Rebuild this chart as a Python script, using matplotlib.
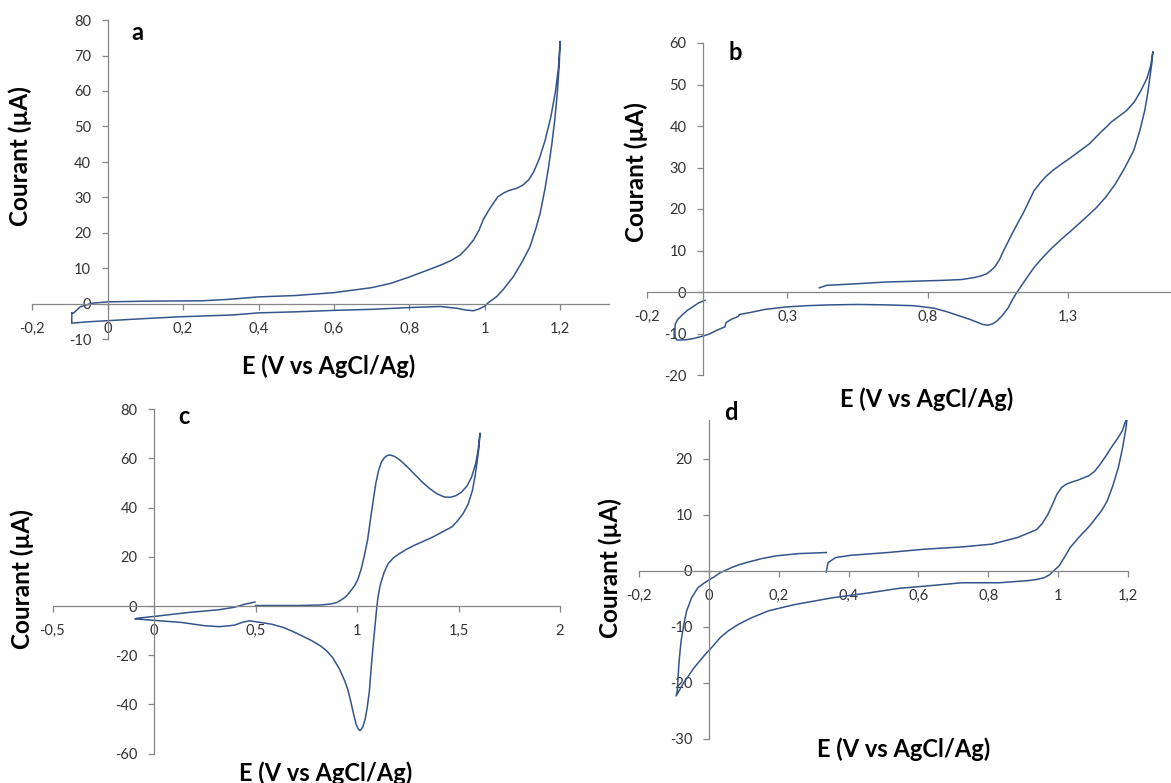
import matplotlib
matplotlib.use("Agg")
import matplotlib.pyplot as plt

# ---------------- data ----------------
# Panel a
E_a = [-0.095, -0.091, -0.073, -0.042, 0.0, 0.1, 0.25, 0.32, 0.4, 0.5, 0.6, 0.7, 0.75, 0.8,
       0.85, 0.882, 0.91, 0.935, 0.955, 0.970, 0.985, 0.996, 1.01, 1.023, 1.035, 1.049,
       1.065, 1.085, 1.1, 1.116, 1.13, 1.145, 1.16, 1.175, 1.188, 1.196, 1.2,
       1.198, 1.193, 1.186, 1.178, 1.17, 1.16, 1.147, 1.135, 1.12, 1.1, 1.076, 1.05, 1.032,
       1.01, 1.0, 0.985, 0.97, 0.95, 0.926, 0.882, 0.8, 0.7, 0.6, 0.5, 0.4, 0.33, 0.19,
       0.1, 0.0, -0.05, -0.0955, -0.095]
I_a = [-2.6, -2.6, -0.8, 0.2, 0.6, 0.8, 0.9, 1.3, 2.0, 2.4, 3.2, 4.6, 5.8, 7.6,
       9.6, 10.9, 12.2, 13.8, 16.0, 18.0, 20.8, 23.7, 26.3, 28.4, 30.2, 31.2,
       32.0, 32.6, 33.4, 34.9, 37.2, 41.0, 46.0, 52.5, 60.0, 67.0, 74.0,
       68.0, 60.0, 52.0, 45.0, 39.0, 32.5, 25.5, 21.0, 16.1, 12.0, 7.7, 4.2, 2.1,
       0.4, -0.6, -1.4, -1.9, -1.7, -1.2, -0.7, -1.0, -1.5, -1.8, -2.2, -2.5, -3.1, -3.6,
       -4.1, -4.7, -5.0, -5.4, -2.6]

# Panel b
E_b = [0.414, 0.44, 0.55, 0.65, 0.75, 0.85, 0.92, 0.967, 0.99, 1.01, 1.025, 1.04, 1.055,
       1.07, 1.085, 1.099, 1.12, 1.138, 1.158, 1.178, 1.2, 1.22, 1.243, 1.275, 1.309, 1.375,
       1.42, 1.441, 1.45, 1.507, 1.535, 1.559, 1.58, 1.593, 1.601,
       1.597, 1.592, 1.583, 1.572, 1.555, 1.533, 1.5, 1.467, 1.435, 1.401, 1.355, 1.309,
       1.275, 1.243, 1.21, 1.178, 1.148, 1.118, 1.1, 1.086, 1.066, 1.046, 1.03, 1.013,
       0.995, 0.98, 0.95, 0.914, 0.87, 0.822, 0.75, 0.651, 0.55, 0.454, 0.37, 0.296, 0.22,
       0.164, 0.13, 0.125, 0.1, 0.082, 0.078, 0.05, 0.02, -0.005, -0.033, -0.06, -0.092,
       -0.099, -0.1, -0.099, -0.09, -0.072, -0.055, -0.033, -0.015, 0.007]
I_b = [1.0, 1.6, 2.0, 2.4, 2.6, 2.8, 3.0, 3.5, 3.9, 4.4, 5.2, 6.2, 7.8,
       10.0, 12.0, 13.9, 16.6, 18.8, 21.6, 24.4, 26.3, 27.8, 29.2, 30.8, 32.4, 35.7,
       38.8, 40.1, 40.8, 43.7, 45.8, 48.6, 51.5, 54.5, 57.9,
       55.0, 52.6, 48.0, 43.7, 39.0, 34.1, 29.8, 26.0, 23.0, 20.4, 17.5, 14.7,
       12.7, 10.7, 8.4, 5.9, 3.0, 0.0, -2.0, -3.8, -5.6, -7.0, -7.7, -8.0,
       -7.8, -7.4, -6.6, -5.8, -4.8, -3.9, -3.3, -3.1, -3.0, -3.1, -3.3, -3.6, -4.2,
       -5.0, -5.4, -5.9, -6.6, -7.4, -8.4, -9.2, -10.2, -10.7, -11.2, -11.5, -11.6,
       -11.0, -9.5, -7.8, -6.6, -5.4, -4.4, -3.4, -2.6, -2.0]

# Panel c
E_c = [0.50, 0.6, 0.7, 0.82, 0.87, 0.9, 0.925, 0.945, 0.96, 0.975, 0.99, 1.005, 1.02,
       1.035, 1.045, 1.052, 1.066, 1.08, 1.093, 1.107, 1.12, 1.135, 1.15, 1.163, 1.185,
       1.209, 1.245, 1.283, 1.32, 1.357, 1.395, 1.43, 1.46, 1.486, 1.515, 1.542, 1.565,
       1.585, 1.597, 1.606,
       1.6, 1.593, 1.582, 1.569, 1.548, 1.523, 1.495, 1.468, 1.42, 1.375, 1.33, 1.283,
       1.245, 1.209, 1.18, 1.153, 1.133, 1.116, 1.105, 1.098, 1.09, 1.08, 1.07, 1.061,
       1.05, 1.04, 1.028, 1.015, 1.005, 0.996, 0.982, 0.969, 0.955, 0.94, 0.913, 0.88,
       0.85, 0.82, 0.775, 0.728, 0.68, 0.636, 0.58, 0.525, 0.47, 0.433, 0.396, 0.322,
       0.248, 0.137, 0.026, -0.085, -0.094,
       -0.085, 0.026, 0.174, 0.322, 0.396, 0.451, 0.497]
I_c = [0.2, 0.2, 0.2, 0.4, 0.8, 1.4, 2.6, 3.8, 5.2, 6.8, 8.5, 11.0, 14.8,
       20.0, 24.0, 26.7, 35.0, 43.0, 50.0, 55.3, 58.5, 60.3, 61.2, 61.4, 60.8,
       59.5, 56.8, 53.6, 50.5, 47.8, 45.6, 44.3, 44.2, 44.8, 46.3, 48.8, 52.5,
       58.0, 63.5, 70.3,
       64.0, 59.4, 53.0, 47.1, 41.5, 37.6, 34.6, 32.2, 30.1, 28.1, 26.4, 24.7,
       23.1, 21.3, 19.6, 17.2, 13.5, 9.0, 4.5, 0.0, -7.0, -15.5, -25.0, -34.6,
       -41.5, -46.0, -49.3, -50.7, -49.8, -48.2, -43.5, -38.7, -34.0, -30.5, -25.5, -21.0,
       -18.2, -16.2, -14.0, -12.1, -10.2, -8.7, -7.4, -6.7, -6.0, -6.7, -7.8, -8.4,
       -8.0, -6.7, -6.0, -5.3, -5.3,
       -5.0, -4.0, -2.6, -1.5, -0.5, 0.8, 1.6]

# Panel d
E_d = [0.336, 0.341, 0.363, 0.405, 0.512, 0.619, 0.725, 0.811, 0.885, 0.939, 0.955,
       0.971, 0.985, 0.997, 1.01, 1.024, 1.04, 1.056, 1.072, 1.088, 1.105, 1.12, 1.137,
       1.152, 1.17, 1.184, 1.195, 1.2,
       1.195, 1.185, 1.173, 1.157, 1.141, 1.125, 1.109, 1.09, 1.067, 1.05, 1.035, 1.02,
       1.003, 0.987, 0.975, 0.96, 0.94, 0.917, 0.832, 0.725, 0.619, 0.544, 0.459, 0.352,
       0.245, 0.171, 0.12, 0.085, 0.055, 0.032, 0.01, -0.011, -0.043, -0.075, -0.094,
       -0.091, -0.089, -0.087, -0.084, -0.08, -0.072, -0.064, -0.05, -0.032, -0.015, 0.0,
       0.016, 0.032, 0.05, 0.064, 0.085, 0.107, 0.15, 0.192, 0.256, 0.336]
I_d = [-0.2, 1.5, 2.4, 2.8, 3.3, 3.9, 4.3, 4.8, 6.0, 7.4, 8.5,
       10.1, 12.0, 13.7, 14.9, 15.5, 15.9, 16.2, 16.6, 17.0, 17.8, 19.0, 20.5,
       22.0, 23.6, 25.0, 27.0, 28.5,
       25.6, 22.0, 18.5, 15.2, 12.5, 10.8, 9.5, 8.0, 6.5, 5.3, 4.2, 2.6,
       0.9, 0.0, -0.7, -1.2, -1.5, -1.7, -2.1, -2.1, -2.7, -3.1, -3.9, -4.8,
       -6.0, -7.1, -8.4, -9.5, -10.7, -11.9, -13.5, -14.9, -17.3, -20.2, -22.3,
       -21.4, -19.5, -17.3, -15.0, -12.5, -9.5, -7.1, -4.8, -3.0, -2.2, -1.6,
       -1.0, -0.3, 0.2, 0.6, 1.1, 1.5, 2.2, 2.7, 3.1, 3.3]

# ticks and labels
xt_a = [-0.2, 0, 0.2, 0.4, 0.6, 0.8, 1.0, 1.2]
xl_a = ['-0,2', '0', '0,2', '0,4', '0,6', '0,8', '1', '1,2']
yt_a = [-10, 0, 10, 20, 30, 40, 50, 60, 70, 80]

xt_b = [-0.2, 0.3, 0.8, 1.3]
xl_b = ['-0,2', '0,3', '0,8', '1,3']
yt_b = [-20, -10, 0, 10, 20, 30, 40, 50, 60]

xt_c = [-0.5, 0, 0.5, 1.0, 1.5, 2.0]
xl_c = ['-0,5', '0', '0,5', '1', '1,5', '2']
yt_c = [-60, -40, -20, 0, 20, 40, 60, 80]

xt_d = [-0.2, 0, 0.2, 0.4, 0.6, 0.8, 1.0, 1.2]
xl_d = ['-0,2', '0', '0,2', '0,4', '0,6', '0,8', '1', '1,2']
yt_d = [-30, -20, -10, 0, 10, 20]

YLABEL = 'Courant (µA)'
XLABEL = 'E (V vs AgCl/Ag)'

# ---------------- style ----------------
W, H = 1171, 783
plt.rcParams['font.family'] = ['Lato', 'DejaVu Sans']
LINE = '#34558B'
AXC = '#868686'
TXT = '#333333'

fig = plt.figure(figsize=(W / 100, H / 100), dpi=100)
fig.patch.set_facecolor('white')


def px_rect(x0, x1, y_bot, y_top):
    return [x0 / W, 1 - y_bot / H, (x1 - x0) / W, (y_bot - y_top) / H]


def setup(ax, xlim, ylim, xt, xl, yt):
    ax.set_xlim(*xlim)
    ax.set_ylim(*ylim)
    ax.patch.set_alpha(0)
    for s in ['top', 'right']:
        ax.spines[s].set_visible(False)
    for s in ['left', 'bottom']:
        ax.spines[s].set_position(('data', 0))
        ax.spines[s].set_color(AXC)
        ax.spines[s].set_linewidth(0.9)
    ax.set_xticks(xt, xl)
    ax.set_yticks(yt, [str(v) for v in yt])
    ax.tick_params(axis='both', direction='out', length=4, width=0.9, color=AXC,
                   labelsize=10.5, labelcolor=TXT)
    ax.tick_params(axis='x', pad=9)
    ax.tick_params(axis='y', pad=8)


def labels(letter, lpos, ypos, xpos):
    fig.text(lpos[0] / W, 1 - lpos[1] / H, letter, fontsize=17, fontweight='bold',
             ha='center', va='center', color='black')
    fig.text(ypos[0] / W, 1 - ypos[1] / H, YLABEL, fontsize=17.5, fontweight='bold',
             rotation=90, ha='center', va='center', color='black',
             bbox=dict(fc='white', ec='none', pad=1))
    fig.text(xpos[0] / W, 1 - xpos[1] / H, XLABEL, fontsize=17, fontweight='bold',
             ha='center', va='center', color='black')


# Panel a
ax_a = fig.add_axes(px_rect(32.3, 107.7 + 1.33 * 377, 339.5, 20))
setup(ax_a, (-0.2, 1.33), (-10, 80), xt_a, xl_a, yt_a)
ax_a.plot(E_a, I_a, color=LINE, lw=1.1)

# Panel b
ax_b = fig.add_axes(px_rect(703 - 0.2 * 281, 703 + 1.8 * 281, 375, 43))
setup(ax_b, (-0.2, 1.8), (-20, 60), xt_b, xl_b, yt_b)
ax_b.plot(E_b, I_b, color=LINE, lw=1.1)

# Panel c
ax_c = fig.add_axes(px_rect(154 - 0.5 * 203, 154 + 2 * 203, 753.6, 409.2))
setup(ax_c, (-0.5, 2.0), (-60, 80), xt_c, xl_c, yt_c)
ax_c.plot(E_c, I_c, color=LINE, lw=1.1)

# Panel d
ax_d = fig.add_axes(px_rect(709 - 0.2 * 349, 709 + 1.2 * 349, 739, 419.8))
setup(ax_d, (-0.2, 1.2), (-30, 27), xt_d, xl_d, yt_d)
ax_d.plot(E_d, I_d, color=LINE, lw=1.1)

labels('a', (137, 32), (20, 156), (329, 366))
labels('b', (735, 53), (636, 172), (927, 399))
labels('c', (184, 416), (22, 579), (326, 773))
labels('d', (731, 412), (610, 568), (904, 749))

fig.savefig('out.png', dpi=100, facecolor='white')
